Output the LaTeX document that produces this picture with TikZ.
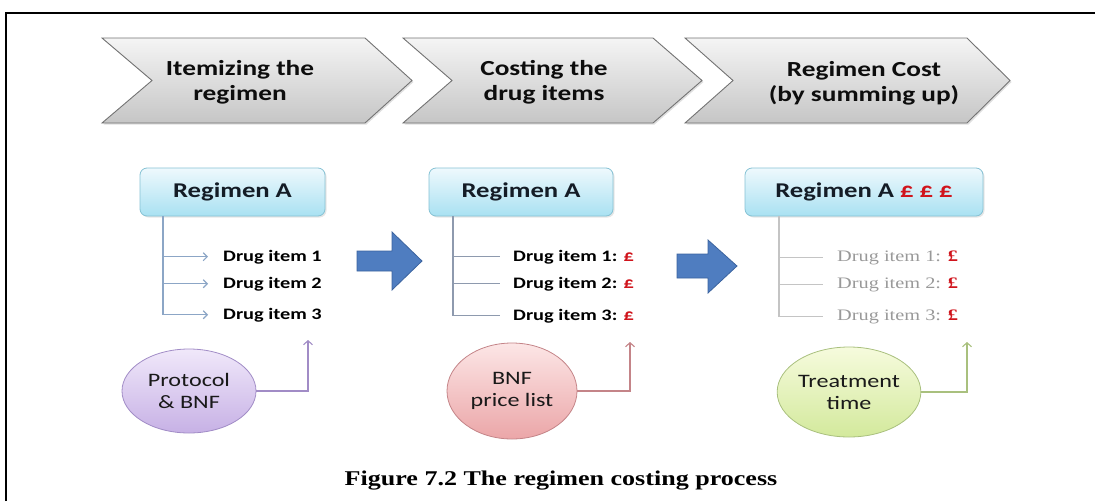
\documentclass[tikz,border=0pt]{standalone}
\usepackage{fontspec}
\usepackage{graphicx}
\setmainfont{Carlito}
\newfontfamily\capfont{Liberation Serif}
\newfontfamily\greyfont{Liberation Serif}
\usetikzlibrary{shapes.geometric,arrows.meta,shadows}

\definecolor{boxtop}{HTML}{EEF9FD}
\definecolor{boxbot}{HTML}{A9E1F2}
\definecolor{boxedge}{HTML}{86C2D4}
\definecolor{boxtxt}{HTML}{141C26}
\definecolor{bluefill}{HTML}{4F7DC0}
\definecolor{blueedge}{HTML}{3B639E}
\definecolor{treeA}{HTML}{8CA6C6}
\definecolor{treeB}{HTML}{8E9AAE}
\definecolor{treeC}{HTML}{C4C4C4}
\definecolor{purtop}{HTML}{F0E8FA}
\definecolor{purbot}{HTML}{C7B1E5}
\definecolor{puredge}{HTML}{A18CC6}
\definecolor{pinktop}{HTML}{FCE6E6}
\definecolor{pinkbot}{HTML}{EBA6A8}
\definecolor{pinkedge}{HTML}{C48488}
\definecolor{grntop}{HTML}{F6FBDD}
\definecolor{grnbot}{HTML}{D3E99C}
\definecolor{grnedge}{HTML}{A9C07E}
\definecolor{pound}{HTML}{D0141C}

% horizontally widened text
\newcommand\wtx[1]{\scalebox{1.27}[1]{#1}}
\newcommand\gbp{\textcolor{pound}{\bfseries £}}

\tikzset{
  chev/.style={draw=black!55, line width=0.9pt, top color=gray!8, bottom color=gray!45,
    drop shadow={opacity=0.25, shadow xshift=1.5pt, shadow yshift=-1.5pt}},
  chevtext/.style={font=\bfseries\fontsize{21.5}{25}\selectfont, align=center, text=black!95},
  regbox/.style={draw=boxedge, line width=0.8pt, rounded corners=7pt,
    top color=boxtop, bottom color=boxbot, minimum height=48pt, inner sep=0pt,
    font=\bfseries\fontsize{21}{24}\selectfont, text=boxtxt,
    drop shadow={opacity=0.2, shadow xshift=1.5pt, shadow yshift=-1.5pt}},
  item/.style={anchor=base west, inner sep=0pt, font=\bfseries\fontsize{16}{18}\selectfont, text=black},
  greyitem/.style={anchor=base west, inner sep=0pt, font=\greyfont\fontsize{16}{18}\selectfont, text=black!40},
  treeline/.style={line width=1.1pt},
  barb/.style={-{Straight Barb[length=4pt,width=8pt]}},
  bigarrow/.style={fill=bluefill, draw=blueedge, line width=0.8pt},
  source/.style={ellipse, inner sep=0pt, line width=0.8pt, align=center,
    font=\fontsize{19}{22}\selectfont, text=black!90},
  feed/.style={line width=1.1pt, -{Straight Barb[length=4pt,width=9pt]}},
}

\begin{document}
\begin{tikzpicture}[x=1pt,y=-1pt]
\useasboundingbox (0,0) rectangle (1095,501);

% page frame (left and top rules)
\draw[line width=2pt] (6,501) -- (6,13) -- (1096,13);

% process chevrons
\draw[chev] (102,38) -- (365,38) -- (412,80.5) -- (365,123) -- (102,123) -- (152,80.5) -- cycle;
\draw[chev] (403,38) -- (653,38) -- (702,80.5) -- (653,123) -- (403,123) -- (452,80.5) -- cycle;
\draw[chev] (685,38) -- (967,38) -- (1010,80.5) -- (967,123) -- (685,123) -- (733,80.5) -- cycle;
\node[chevtext] (h1) at (240,82) {\wtx{Itemizing the}\\\wtx{regimen}};
\node[chevtext] (h2) at (544,82) {\wtx{Costing the}\\\wtx{drug items}};
\node[chevtext] (h3) at (864,83) {\wtx{Regimen Cost}\\\wtx{(by summing up)}};

% regimen boxes
\node[regbox, minimum width=185pt] (r1) at (232.5,192) {\wtx{Regimen A}};
\node[regbox, minimum width=184pt] (r2) at (521,192) {\wtx{Regimen A}};
\node[regbox, minimum width=238pt] (r3) at (864,192) {\wtx{Regimen A \gbp\ \gbp\ \gbp}};

% column 1: itemizing
\node[item] (d11) at (223,261) {\wtx{Drug item 1}};
\node[item] (d12) at (223,288) {\wtx{Drug item 2}};
\node[item] (d13) at (223,319) {\wtx{Drug item 3}};
\coordinate (v1) at (163,216);
\draw[treeline, treeA, barb] (v1) -- (v1 |- d13.west) -- ([xshift=-15pt]d13.west);
\draw[treeline, treeA, barb] (v1 |- d11.west) -- ([xshift=-15pt]d11.west);
\draw[treeline, treeA, barb] (v1 |- d12.west) -- ([xshift=-15pt]d12.west);

% column 2: costing
\node[item] (d21) at (513,261) {\wtx{Drug item 1: \gbp}};
\node[item] (d22) at (513,288) {\wtx{Drug item 2: \gbp}};
\node[item] (d23) at (513,320) {\wtx{Drug item 3: \gbp}};
\coordinate (v2) at (453,216);
\draw[treeline, treeB] (v2) -- (v2 |- d23.west) -- ([xshift=-13pt]d23.west);
\draw[treeline, treeB] (v2 |- d21.west) -- ([xshift=-13pt]d21.west);
\draw[treeline, treeB] (v2 |- d22.west) -- ([xshift=-13pt]d22.west);

% column 3: summing
\node[greyitem] (d31) at (837,261) {\wtx{Drug item 1: \gbp}};
\node[greyitem] (d32) at (837,288) {\wtx{Drug item 2: \gbp}};
\node[greyitem] (d33) at (837,320) {\wtx{Drug item 3: \gbp}};
\coordinate (v3) at (779,216);
\draw[treeline, treeC] (v3) -- (v3 |- d33.west) -- ([xshift=-14pt]d33.west);
\draw[treeline, treeC] (v3 |- d31.west) -- ([xshift=-14pt]d31.west);
\draw[treeline, treeC] (v3 |- d32.west) -- ([xshift=-14pt]d32.west);

% block arrows between the stages
\draw[bigarrow] (357,251) -- (392,251) -- (392,232) -- (422,261) -- (392,290) -- (392,271) -- (357,271) -- cycle;
\draw[bigarrow] (677,254) -- (708,254) -- (708,240) -- (737,266) -- (708,293) -- (708,278) -- (677,278) -- cycle;

% information sources
\node[source, draw=puredge, top color=purtop, bottom color=purbot,
  minimum width=134pt, minimum height=84pt] (e1) at (189,391) {\wtx{Protocol}\\\wtx{\& BNF}};
\node[source, draw=pinkedge, top color=pinktop, bottom color=pinkbot,
  minimum width=130pt, minimum height=96pt] (e2) at (512,391) {\wtx{BNF}\\\wtx{price list}};
\node[source, draw=grnedge, top color=grntop, bottom color=grnbot,
  minimum width=136pt, minimum height=90pt] (e3) at (849,392) {\wtx{Treatment}\\\wtx{time}};

\coordinate (a1) at (308,340);
\coordinate (a2) at (630,342);
\coordinate (a3) at (967,342);
\draw[feed, puredge] (e1.east) -| (a1);
\draw[feed, pinkedge] (e2.east) -| (a2);
\draw[feed, grnedge] (e3.east) -| (a3);

% caption
\node[anchor=base, inner sep=0pt, font=\capfont\bfseries\fontsize{21}{24}\selectfont] (cap) at (561,485)
  {\scalebox{1.24}[1]{Figure 7.2 The regimen costing process}};
\end{tikzpicture}
\end{document}
